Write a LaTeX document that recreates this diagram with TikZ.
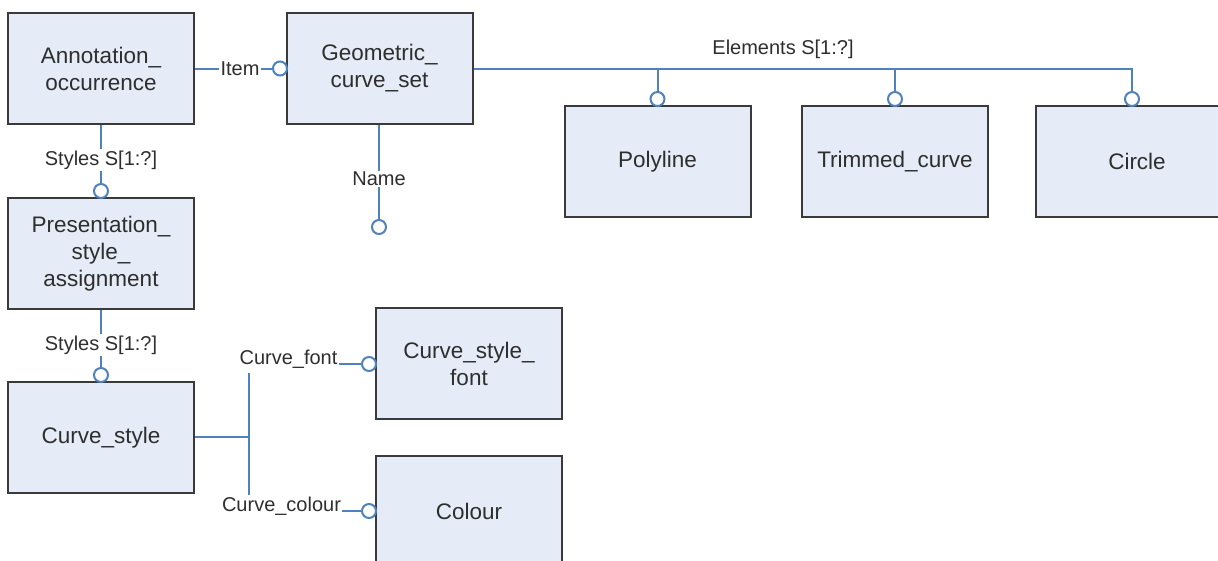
\documentclass[tikz,border=0pt]{standalone}
\usepackage{fontspec}
\setmainfont{Liberation Sans}
\definecolor{linkblue}{HTML}{4F81BD}
\definecolor{boxfill}{HTML}{E6ECF7}
\definecolor{boxedge}{HTML}{3A3A3A}
\definecolor{inktext}{HTML}{2E2E2E}
\begin{document}
\begin{tikzpicture}[x=1pt,y=-1pt,
  entity/.style={draw=boxedge, line width=2pt, fill=boxfill, minimum width=186pt,
    minimum height=111pt, inner sep=0pt, align=center, text=inktext,
    font=\fontsize{22.5}{27}\selectfont},
  lbl/.style={inner sep=1pt, text=inktext, font=\fontsize{20}{24}\selectfont},
  ring/.style={circle, draw=linkblue, line width=2pt, fill=white, minimum size=14pt, inner sep=0pt},
  link/.style={draw=linkblue, line width=2pt}]
\useasboundingbox (0,0) rectangle (1218,560);

% entity boxes
\node[entity] (ann)  at (101,68.5)   {Annotation\_\\occurrence};
\node[entity] (geo)  at (379.5,68.5) {Geometric\_\\curve\_set};
\node[entity] (pres) at (101,253.5)  {Presentation\_\\style\_\\assignment};
\node[entity] (cs)   at (101,437.5)  {Curve\_style};
\node[entity] (csf)  at (469,363.5)  {Curve\_style\_\\font};
\node[entity] (col)  at (469,511.5)  {Colour};
\node[entity] (poly) at (657.5,161.5){Polyline};
\node[entity] (trim) at (895,161.5)  {Trimmed\_curve};
\node[entity, minimum width=202pt] (circ) at (1137,161.5) {Circle};

% Item
\node[lbl] (item) at (240,68.5) {Item};
\node[ring] (ritem) at (280,68.5) {};
\draw[link] (ann.east) -- (item.west);
\draw[link] (item.east) -- (ritem.west);

% Styles (annotation -> presentation)
\node[lbl] (sty1) at (101,160) {Styles S[1:?]};
\node[ring] (rsty1) at (101,191) {};
\draw[link] (ann.south) -- (sty1.north);
\draw[link] (sty1.south) -- (rsty1.north);

% Name
\node[lbl] (name) at (379,179) {Name};
\node[ring] (rname) at (379,227) {};
\draw[link] (geo.south -| name) -- (name.north);
\draw[link] (name.south) -- (rname.north);

% Styles (presentation -> curve style)
\node[lbl] (sty2) at (101,345) {Styles S[1:?]};
\node[ring] (rsty2) at (101,375) {};
\draw[link] (pres.south) -- (sty2.north);
\draw[link] (sty2.south) -- (rsty2.north);

% Elements
\node[lbl] (elem) at (783,49) {Elements S[1:?]};
\coordinate (bus) at (472,69);
\node[ring] (rpoly) at (657.5,99) {};
\node[ring] (rtrim) at (895,99) {};
\node[ring] (rcirc) at (1132,99) {};
\draw[link] (geo.east |- bus) -| (rcirc.north);
\draw[link] (rpoly.north) -- (rpoly.north |- bus);
\draw[link] (rtrim.north) -- (rtrim.north |- bus);

% Curve_font / Curve_colour
\coordinate (jm) at (249,437);
\coordinate (jt) at (249,373);
\coordinate (jb) at (249,495);
\draw[link] (cs.east |- jm) -- (jm);
\draw[link] (jt) -- (jb);
\node[lbl] (cfont) at (288.5,359) {Curve\_font};
\node[lbl] (ccol) at (281.5,506) {Curve\_colour};
\node[ring] (rcf) at (369,364) {};
\node[ring] (rcc) at (369,511) {};
\draw[link] (cfont.east |- rcf) -- (rcf.west);
\draw[link] (ccol.east |- rcc) -- (rcc.west);
\end{tikzpicture}
\end{document}
